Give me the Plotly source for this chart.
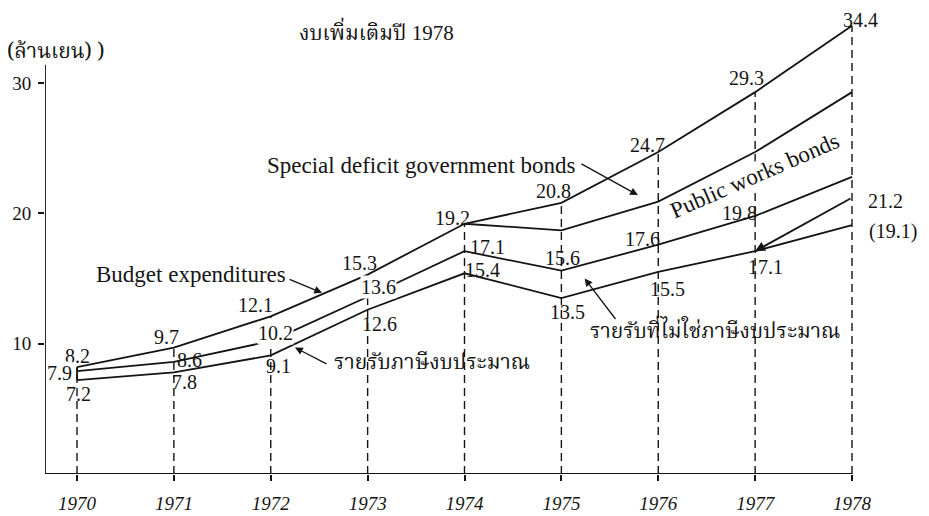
import plotly.graph_objects as go

# ---------------- data ----------------
years = [1970, 1971, 1972, 1973, 1974, 1975, 1976, 1977, 1978]
budget_expenditures = [8.2, 9.7, 12.1, 15.3, 19.2, 20.8, 24.7, 29.3, 34.4]
bond_years = [1974, 1975, 1976, 1977, 1978]
expenditures_less_special_bonds = [19.2, 18.7, 20.9, 24.7, 29.3]
total_revenue = [7.9, 8.6, 10.2, 13.6, 17.1, 15.6, 17.6, 19.8, 22.8]
total_revenue_labels = ["7.9", "8.6", "10.2", "13.6", "17.1", "15.6", "17.6", "19.8", ""]
tax_revenue = [7.2, 7.8, 9.1, 12.6, 15.4, 13.5, 15.5, 17.1, 19.1]
tax_revenue_labels = ["7.2", "7.8", "9.1", "12.6", "15.4", "13.5", "15.5", "17.1", "(19.1)"]
revised_years = [1977, 1978]
revised_tax_revenue = [17.1, 21.2]

y_ticks = [10, 20, 30]
x_ticks = years

title_thai = "งบเพิ่มเติมปี"
title_year = "1978"
unit_text = "(ล้านเยน) )"

# ---------------- layout geometry ----------------
# the page body has an 8px margin, so screen = figure + 8
OFF = 8
W, H = 929, 516
PLOT_LEFT, PLOT_RIGHT, PLOT_TOP, PLOT_BOTTOM = 45, 909, 8, 474   # screen pixels
L = PLOT_LEFT - OFF
R = W - (PLOT_RIGHT - OFF)
T = PLOT_TOP - OFF
B = H - (PLOT_BOTTOM - OFF)
PW = PLOT_RIGHT - PLOT_LEFT
PH = PLOT_BOTTOM - PLOT_TOP
PX_PER_YEAR = 96.875
PX_PER_UNIT = 13.033
x0 = 1970 - (77 - PLOT_LEFT) / PX_PER_YEAR
x1 = x0 + PW / PX_PER_YEAR
y1 = PH / PX_PER_UNIT
y_axis_top = 31.4


def paper(px, py):
    """screen pixel -> paper fraction"""
    return (px - PLOT_LEFT) / PW, (PLOT_BOTTOM - py) / PH


INK = "#141414"
SERIF = "Liberation Serif, Times New Roman, serif"
NUM_FONT = dict(family=SERIF, size=20, color=INK)
TXT_FONT = dict(family=SERIF, size=23, color=INK)
THAI_FONT = dict(family="Noto Serif Thai, Norasi, Kinnari, Noto Sans Thai, Loma, Garuda, Liberation Serif, serif",
                 size=21, color=INK)

fig = go.Figure()

line_style = dict(color=INK, width=1.8)

# dashed year guides: from the axis up to the expenditure line
gx, gy = [], []
for yr, v in zip(years, budget_expenditures):
    gx += [yr, yr, None]
    gy += [0, v, None]
fig.add_trace(go.Scatter(x=gx, y=gy, mode="lines",
                         line=dict(color=INK, width=1.4, dash="8px,5px"),
                         hoverinfo="skip", showlegend=False))

# left closing bar at 1970
fig.add_trace(go.Scatter(x=[years[0], years[0]], y=[tax_revenue[0], budget_expenditures[0]],
                         mode="lines", line=line_style, showlegend=False))

fig.add_trace(go.Scatter(x=years, y=budget_expenditures, mode="lines", line=line_style,
                         name="Budget expenditures", showlegend=False))
fig.add_trace(go.Scatter(x=bond_years, y=expenditures_less_special_bonds, mode="lines", line=line_style,
                         name="Less special deficit bonds", showlegend=False))
fig.add_trace(go.Scatter(x=years, y=total_revenue, mode="lines", line=line_style,
                         name="Total revenue", showlegend=False))
fig.add_trace(go.Scatter(x=years, y=tax_revenue, mode="lines", line=line_style,
                         name="Tax revenue", showlegend=False))

annotations = []

# value labels (pixel offsets from each point)
budget_off = [(0, -11), (-7, -11), (-15, -11), (-8, -12), (-12, -6), (-8, -12), (-11, -7), (-9, -14), (8, -6)]
total_off = [(-18, 2), (16, -2), (5, -8), (11, -10), (23, -4), (1, -13), (-16, -6), (-16, -3), (0, 0)]
total_bg = [True, False, True, True, False, False, False, False, False]
tax_off = [(1, 14), (11, 10), (8, 11), (12, 14), (18, -3), (6, 14), (9, 17), (10, 16), (15, 6)]

CM = dict(xanchor="center", yanchor="middle")

for yr, v, (dx, dy) in zip(years, budget_expenditures, budget_off):
    annotations.append(dict(x=yr, y=v, text=f"{v:.1f}", showarrow=False, xshift=dx, yshift=-dy,
                            font=NUM_FONT, **CM))
for yr, v, lab, (dx, dy), bg in zip(years, total_revenue, total_revenue_labels, total_off, total_bg):
    if lab:
        annotations.append(dict(x=yr, y=v, text=lab, showarrow=False, xshift=dx, yshift=-dy,
                                font=NUM_FONT, bgcolor="white" if bg else None, borderpad=0, **CM))
for i, (yr, v, lab, (dx, dy)) in enumerate(zip(years, tax_revenue, tax_revenue_labels, tax_off)):
    last = i == len(years) - 1
    annotations.append(dict(x=yr, y=v, text=lab, showarrow=False, xshift=dx, yshift=-dy,
                            xanchor="left" if last else "center", yanchor="middle", font=NUM_FONT))

# revised tax revenue 1978 (arrow back to the 1977 point)
annotations.append(dict(x=revised_years[0], y=revised_tax_revenue[0],
                        ax=revised_years[1], ay=revised_tax_revenue[1], axref="x", ayref="y",
                        text="", showarrow=True, arrowhead=2, arrowsize=1.1, arrowwidth=1.8,
                        arrowcolor=INK, standoff=0, startstandoff=0))
annotations.append(dict(x=revised_years[1], y=revised_tax_revenue[1], text=f"{revised_tax_revenue[1]:.1f}",
                        showarrow=False, xanchor="left", yanchor="middle", xshift=14, yshift=-3,
                        font=NUM_FONT))

# descriptive labels (screen pixel centres -> paper)
bx, by = paper(191, 275)
annotations.append(dict(xref="paper", yref="paper", x=bx, y=by, text="Budget expenditures",
                        showarrow=False, font=TXT_FONT, **CM))
annotations.append(dict(x=1972.53, y=13.9, ax=-34, ay=-14, text="", showarrow=True, arrowhead=2,
                        arrowsize=1.2, arrowwidth=1.3, arrowcolor=INK, standoff=0))

sx, sy = paper(421, 165)
annotations.append(dict(xref="paper", yref="paper", x=sx, y=sy, text="Special deficit government bonds",
                        showarrow=False, font=TXT_FONT, **CM))
annotations.append(dict(x=1975.79, y=21.4, ax=-58, ay=-32, text="", showarrow=True, arrowhead=2,
                        arrowsize=1.2, arrowwidth=1.3, arrowcolor=INK, standoff=0))

annotations.append(dict(x=1977.0, y=22.9, text="Public works bonds", textangle=-23.5,
                        showarrow=False, font=TXT_FONT, bgcolor="white", borderpad=0, **CM))

tx, ty = paper(432, 363)
annotations.append(dict(xref="paper", yref="paper", x=tx, y=ty, text="รายรับภาษีงบประมาณ",
                        showarrow=False, font=THAI_FONT, **CM))
annotations.append(dict(x=1972.25, y=9.7, ax=33, ay=17, text="", showarrow=True, arrowhead=2,
                        arrowsize=1.2, arrowwidth=1.3, arrowcolor=INK, standoff=0))

nx, ny = paper(715, 332)
annotations.append(dict(xref="paper", yref="paper", x=nx, y=ny, text="รายรับที่ไม่ใช่ภาษีงบประมาณ",
                        showarrow=False, font=THAI_FONT, **CM))
annotations.append(dict(x=1975.24, y=15.0, ax=32, ay=42, text="", showarrow=True, arrowhead=2,
                        arrowsize=1.2, arrowwidth=1.3, arrowcolor=INK, standoff=0))

# title and unit
ttx, tty = paper(376, 34)
annotations.append(dict(xref="paper", yref="paper", x=ttx, y=tty,
                        text=f"{title_thai} <span style='font-family:Liberation Serif'>{title_year}</span>",
                        showarrow=False, font=THAI_FONT, **CM))
ux, uy = paper(56, 52)
annotations.append(dict(xref="paper", yref="paper", x=ux, y=uy, text=unit_text,
                        showarrow=False, font=THAI_FONT, **CM))

shapes = [
    dict(type="line", xref="x", yref="y", x0=x0, x1=x0, y0=0, y1=y_axis_top,
         line=dict(color=INK, width=1.8), layer="below"),
    dict(type="line", xref="x", yref="y", x0=x0, x1=years[-1], y0=0, y1=0,
         line=dict(color=INK, width=1.8), layer="below"),
]

fig.update_layout(
    width=W, height=H, autosize=False,
    margin=dict(l=L, r=R, t=T, b=B, pad=0),
    paper_bgcolor="white", plot_bgcolor="white",
    showlegend=False,
    annotations=annotations,
    shapes=shapes,
    xaxis=dict(range=[x0, x1], tickvals=x_ticks, ticktext=[str(t) for t in x_ticks],
               showgrid=False, zeroline=False, showline=False,
               ticks="outside", ticklen=6, tickwidth=1.6, tickcolor=INK,
               ticklabelstandoff=6,
               tickfont=dict(family=SERIF, size=19, style="italic", color=INK)),
    yaxis=dict(range=[0, y1], tickvals=y_ticks, ticktext=[str(t) for t in y_ticks],
               showgrid=False, zeroline=False, showline=False,
               ticks="outside", ticklen=6, tickwidth=1.6, tickcolor=INK,
               ticklabelstandoff=3,
               tickfont=dict(family=SERIF, size=19, color=INK)),
)

fig.write_html("out.html")
